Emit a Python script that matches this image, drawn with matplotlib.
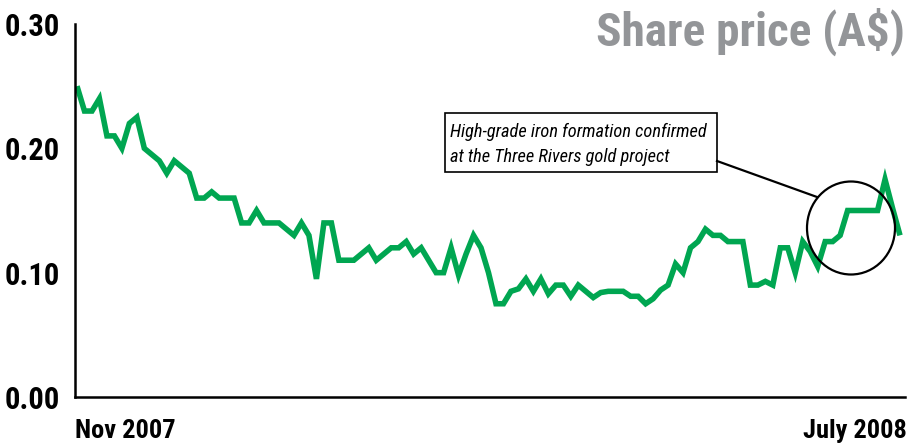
import matplotlib
matplotlib.use("Agg")
import matplotlib.pyplot as plt
from matplotlib import font_manager as fm
from matplotlib.patches import Ellipse, Rectangle
from matplotlib.lines import Line2D

# ---- data ----
prices = [0.25, 0.23, 0.23, 0.24, 0.21, 0.21, 0.20, 0.22, 0.225, 0.20,
          0.195, 0.19, 0.18, 0.19, 0.185, 0.18, 0.16, 0.16, 0.165, 0.16,
          0.16, 0.16, 0.14, 0.14, 0.15, 0.14, 0.14, 0.14, 0.135, 0.13,
          0.14, 0.13, 0.095, 0.14, 0.14, 0.11, 0.11, 0.11, 0.115, 0.12,
          0.11, 0.115, 0.12, 0.12, 0.125, 0.115, 0.12, 0.11, 0.10, 0.10,
          0.12, 0.098, 0.115, 0.13, 0.12, 0.10, 0.075, 0.075, 0.085, 0.087,
          0.095, 0.085, 0.095, 0.083, 0.09, 0.09, 0.081, 0.09, 0.085, 0.08,
          0.084, 0.085, 0.085, 0.085, 0.081, 0.081, 0.075, 0.079, 0.086, 0.09,
          0.107, 0.10, 0.12, 0.125, 0.135, 0.13, 0.13, 0.125, 0.125, 0.125,
          0.09, 0.09, 0.093, 0.09, 0.12, 0.12, 0.10, 0.125, 0.117, 0.105,
          0.125, 0.125, 0.13, 0.15, 0.15, 0.15, 0.15, 0.15, 0.175, 0.152,
          0.13]
y_ticks = [0.0, 0.10, 0.20, 0.30]
y_tick_labels = ["0.00", "0.10", "0.20", "0.30"]
start_label = "Nov 2007"
end_label = "July 2008"
title = "Share price (A$)"
note_lines = ["High-grade iron formation confirmed",
              "at the Three Rivers gold project"]

# ---- font choice: prefer a condensed family ----
names = {f.name for f in fm.fontManager.ttflist}
FONT = None
STRETCH = "normal"
SCALE = 1.0
for cand in ["Roboto Condensed", "Liberation Sans Narrow", "Open Sans Condensed",
             "DejaVu Sans Condensed", "Noto Sans Condensed"]:
    if cand in names:
        FONT = [cand, "DejaVu Sans"]
        break
if FONT is None:
    FONT = ["DejaVu Sans"]
    SCALE = 0.78

GREEN = "#00A651"
GREY = "#939598"

W, H = 908, 443
fig = plt.figure(figsize=(W / 100, H / 100), dpi=100)

n = len(prices)
step = (900 - 77) / (n - 1)
ax = fig.add_axes([75 / W, 46 / H, (905 - 75) / W, (419 - 46) / H])
ax.plot(range(n), prices, color=GREEN, lw=4.0, solid_joinstyle="miter",
        solid_capstyle="butt")
ax.set_xlim(-2 / step, (n - 1) + 5 / step)
ax.set_ylim(0, 0.30)
for s in ["top", "right"]:
    ax.spines[s].set_visible(False)
for s in ["left", "bottom"]:
    ax.spines[s].set_linewidth(1.8)
    ax.spines[s].set_color("black")
ax.set_xticks([])
ax.set_yticks(y_ticks)
ax.set_yticklabels(y_tick_labels, family=FONT, fontweight="bold",
                   fontsize=22 * SCALE, fontstretch=STRETCH)
ax.tick_params(axis="y", length=0, pad=11)
for lab in ax.get_yticklabels():
    lab.set_verticalalignment("center_baseline")


def fx(px):
    return px / W


def fy(py):
    return (H - py) / H


common = dict(family=FONT, fontstretch=STRETCH)
fig.text(fx(75), fy(438), start_label, ha="left", va="baseline",
         fontweight="bold", fontsize=19 * SCALE, **common)
fig.text(fx(907), fy(438), end_label, ha="right", va="baseline",
         fontweight="bold", fontsize=19 * SCALE, **common)
fig.text(fx(905), fy(46), title, ha="right", va="baseline",
         fontweight="bold", fontsize=34 * SCALE, color=GREY, **common)

# annotation box
fig.patches.append(Rectangle((fx(445), fy(172)), (717 - 445) / W, (172 - 113) / H,
                             transform=fig.transFigure, fill=False,
                             edgecolor="black", lw=1.2))
fig.text(fx(450), fy(137), note_lines[0], ha="left", va="baseline",
         style="italic", fontsize=13.2 * SCALE, **common)
fig.text(fx(450), fy(162), note_lines[1], ha="left", va="baseline",
         style="italic", fontsize=13.2 * SCALE, **common)
fig.lines.append(Line2D([fx(717), fx(817)], [fy(161), fy(197)],
                        transform=fig.transFigure, color="black", lw=1.6))
fig.patches.append(Ellipse((fx(851), fy(228)), 88 / W, 93 / H,
                           transform=fig.transFigure, fill=False,
                           edgecolor="black", lw=1.6))

fig.savefig("out.png", dpi=100)
